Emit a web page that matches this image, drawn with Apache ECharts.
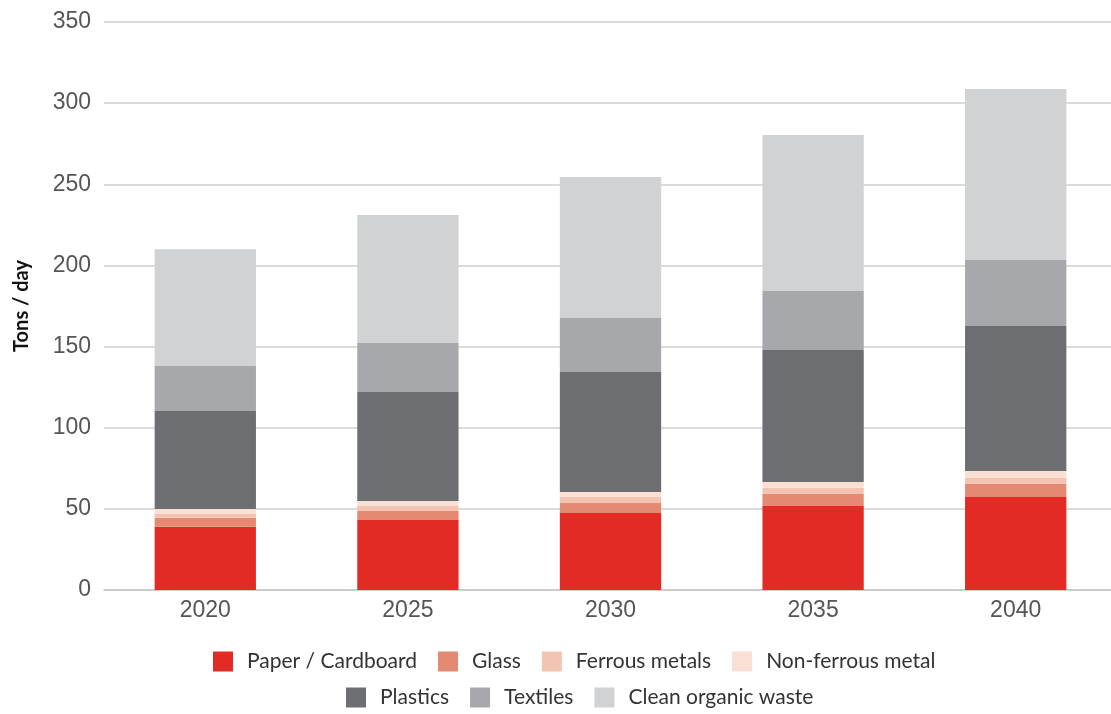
<!DOCTYPE html>
<html>
<head>
<meta charset="utf-8">
<script src="https://cdn.jsdelivr.net/npm/echarts@6/dist/echarts.min.js"></script>
<style>
  html, body { margin: 0; padding: 0; background: #fff; }
  #chart { width: 1111px; height: 714px; }
</style>
</head>
<body>
<div id="chart"></div>
<script>
// categories and stacked series (tons / day)
const years = ['2020', '2025', '2030', '2035', '2040'];
const paper = [39, 43.1, 47.4, 51.8, 57.3];
const glass = [5.5, 5.6, 6.2, 7.3, 8];
const ferrous = [2.4, 3.1, 3.7, 3.9, 3.7];
const nonFerrous = [3, 3, 3.1, 3.5, 4.3];
const plastics = [60.4, 67.2, 73.9, 81.4, 89.4];
const textiles = [27.7, 30.2, 33.3, 36.3, 40.6];
const organic = [72, 78.9, 86.9, 96.1, 105.4];

const seriesDefs = [
    { name: 'Paper / Cardboard', data: paper, color: '#e32b25' },
    { name: 'Glass', data: glass, color: '#e48a72' },
    { name: 'Ferrous metals', data: ferrous, color: '#f4c4b3' },
    { name: 'Non-ferrous metal', data: nonFerrous, color: '#f9dfd4' },
    { name: 'Plastics', data: plastics, color: '#6d6e72' },
    { name: 'Textiles', data: textiles, color: '#a7a8ab' },
    { name: 'Clean organic waste', data: organic, color: '#d1d2d4' }
];

const font = 'Lato, "Open Sans", sans-serif';
const tickFont = '"Liberation Sans", Arial, sans-serif';

const legendBase = {
    itemWidth: 20,
    itemHeight: 20,
    itemGap: 21,
    icon: 'rect',
    padding: 0,
    textStyle: { fontFamily: font, fontSize: 21, color: '#333', padding: [0, 0, 0, 9] }
};

const chart = echarts.init(document.getElementById('chart'));
chart.setOption({
    animation: false,
    color: seriesDefs.map(s => s.color),
    grid: {
        left: 104, right: -6, top: 22, bottom: 124,
        containLabel: false,
        outerBoundsMode: 'none'
    },
    legend: [
        Object.assign({}, legendBase, { left: 213, top: 651, data: seriesDefs.slice(0, 4).map(s => s.name) }),
        Object.assign({}, legendBase, { left: 346, top: 687, data: seriesDefs.slice(4).map(s => s.name) })
    ],
    xAxis: {
        type: 'category',
        data: years,
        axisLine: { lineStyle: { color: '#c8c8c8', width: 1.5 } },
        axisTick: { show: false },
        axisLabel: { fontFamily: tickFont, fontSize: 23, color: '#555', margin: 9 }
    },
    yAxis: {
        type: 'value',
        min: 0,
        max: 350,
        interval: 50,
        name: 'Tons / day',
        nameLocation: 'middle',
        nameGap: 72,
        nameTextStyle: { fontFamily: font, fontSize: 20, fontWeight: 'bold', color: '#111' },
        axisLine: { show: false },
        axisTick: { show: false },
        axisLabel: { fontFamily: tickFont, fontSize: 23, color: '#555', margin: 13 },
        splitLine: { lineStyle: { color: '#cfcfcf', width: 1.5 } }
    },
    series: seriesDefs.map(s => ({
        name: s.name,
        type: 'bar',
        stack: 'total',
        barWidth: '50%',
        data: s.data,
        itemStyle: { color: s.color }
    }))
});
</script>
</body>
</html>
